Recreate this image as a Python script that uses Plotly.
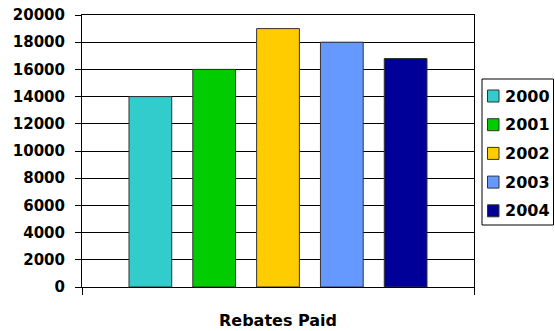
import plotly.graph_objects as go

categories = ["Rebates Paid"]
years = ["2000", "2001", "2002", "2003", "2004"]
values = [14000, 16000, 19000, 18000, 16800]
colors = ["#33CCCC", "#00CC00", "#FFCC00", "#6699FF", "#000099"]
y_ticks = list(range(0, 20001, 2000))
y_ticktext = [str(v) for v in y_ticks]

FONT = "DejaVu Sans"
W, H = 555, 331
L, R, T, B = 82, 81, 15, 44
PW, PH = W - L - R, H - T - B


def px(x):
    return (x - L) / PW


def py(y):
    return (H - B - y) / PH


fig = go.Figure()
for yr, v, c in zip(years, values, colors):
    fig.add_trace(go.Bar(
        x=categories, y=[v], name=yr, showlegend=False,
        marker=dict(color=c, line=dict(color="#333333", width=1)),
    ))

# manual legend
shapes = [dict(type="rect", xref="paper", yref="paper",
               x0=px(482), x1=px(553.5), y0=py(225), y1=py(79),
               line=dict(color="black", width=1), fillcolor="white", layer="above")]
annotations = []
for i, (yr, c) in enumerate(zip(years, colors)):
    cy = 96 + i * 28.7
    shapes.append(dict(type="rect", xref="paper", yref="paper",
                       x0=px(487.5), x1=px(499), y0=py(cy + 6), y1=py(cy - 6),
                       line=dict(color="#333333", width=1), fillcolor=c, layer="above"))
    annotations.append(dict(xref="paper", yref="paper", x=px(503), y=py(cy),
                            xanchor="left", yanchor="middle", text=yr, showarrow=False,
                            font=dict(family=FONT, size=16, color="black", weight="bold")))

fig.update_layout(
    width=W, height=H,
    margin=dict(l=L, r=R, t=T, b=B, autoexpand=False),
    paper_bgcolor="white", plot_bgcolor="white",
    barmode="group", bargap=0.186, bargroupgap=0.33,
    font=dict(family=FONT, size=15, color="black", weight="bold"),
    showlegend=False,
    shapes=shapes, annotations=annotations,
    xaxis=dict(
        type="category", range=[-0.5, 0.5],
        showline=True, linecolor="black", linewidth=1, mirror=True,
        ticks="outside", tickson="boundaries", ticklen=7, tickcolor="black",
        ticklabelstandoff=19,
        tickfont=dict(family=FONT, size=16, color="black", weight="bold"),
        showgrid=False,
    ),
    yaxis=dict(
        range=[0, 20000], tickvals=y_ticks, ticktext=y_ticktext,
        showline=True, linecolor="black", linewidth=1, mirror=True,
        ticks="outside", ticklen=6, tickcolor="black",
        ticklabelstandoff=7,
        showgrid=True, gridcolor="black", gridwidth=1,
        tickfont=dict(family=FONT, size=15, color="black", weight="bold"),
        zeroline=False,
    ),
)

fig.write_html("out.html")
